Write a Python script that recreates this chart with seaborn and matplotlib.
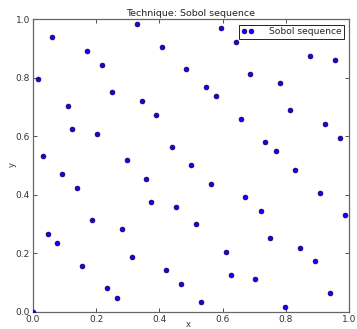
import matplotlib
matplotlib.use("Agg")
import matplotlib.pyplot as plt
from matplotlib.lines import Line2D
import seaborn as sns
import pandas as pd

# Sample points of the 2-D Sobol sequence
x_vals = [0.000, 0.017, 0.062, 0.173, 0.218, 0.329, 0.408, 0.484, 0.251, 0.344,
          0.111, 0.391, 0.125, 0.203, 0.439, 0.032, 0.297, 0.595, 0.641, 0.876,
          0.954, 0.687, 0.782, 0.548, 0.579, 0.814, 0.657, 0.924, 0.970, 0.735,
          0.767, 0.500, 0.094, 0.359, 0.141, 0.375, 0.454, 0.187, 0.282, 0.047,
          0.078, 0.314, 0.157, 0.422, 0.470, 0.235, 0.266, 0.830, 0.563, 0.908,
          0.672, 0.720, 0.986, 0.516, 0.751, 0.845, 0.610, 0.892, 0.626, 0.703,
          0.938, 0.532, 0.797]
y_vals = [0.000, 0.798, 0.939, 0.893, 0.845, 0.986, 0.907, 0.831, 0.752, 0.720,
          0.705, 0.674, 0.626, 0.610, 0.564, 0.533, 0.518, 0.971, 0.923, 0.876,
          0.862, 0.815, 0.783, 0.768, 0.737, 0.689, 0.658, 0.642, 0.596, 0.580,
          0.549, 0.504, 0.471, 0.455, 0.423, 0.376, 0.360, 0.315, 0.283, 0.267,
          0.237, 0.189, 0.158, 0.142, 0.096, 0.081, 0.049, 0.486, 0.439, 0.408,
          0.392, 0.346, 0.330, 0.299, 0.252, 0.220, 0.205, 0.174, 0.127, 0.112,
          0.065, 0.033, 0.018]
series_label = "Sobol sequence"
tick_vals = [0.0, 0.2, 0.4, 0.6, 0.8, 1.0]

df = pd.DataFrame({"x": x_vals, "y": y_vals})

sns.set_style("white")
plt.rcParams["font.family"] = ["DejaVu Sans"]
plt.rcParams["font.size"] = 6.5

face = "#1a00ee"
edge = "#000055"

fig = plt.figure(figsize=(3.57, 3.29), dpi=100)
ax = fig.add_axes([0.0916, 0.052, 0.8868, 0.8888])

sns.scatterplot(data=df, x="x", y="y", ax=ax, color=face,
                edgecolor=edge, linewidth=0.5, s=12, marker="o",
                legend=False, zorder=3)

ax.set_xlim(0, 1)
ax.set_ylim(0, 1)
ax.set_xticks(tick_vals)
ax.set_yticks(tick_vals)
ax.set_xticklabels([f"{t:.1f}" for t in tick_vals], color="#333333")
ax.set_yticklabels([f"{t:.1f}" for t in tick_vals], color="#333333")
ax.tick_params(direction="in", length=3, width=0.6, color="#333333",
               top=True, right=True, bottom=True, left=True, labelsize=6.5, pad=2)
for sp in ax.spines.values():
    sp.set_visible(True)
    sp.set_color("#666666")
    sp.set_linewidth(0.9)

ax.set_xlabel("x", fontsize=6, color="#333333")
ax.set_ylabel("y", fontsize=6, color="#333333")
ax.xaxis.set_label_coords(0.49, -0.042)
ax.xaxis.label.set_va("center")
ax.yaxis.set_label_coords(-0.066, 0.505)
ax.yaxis.label.set_va("center")
ax.set_title("Technique: Sobol sequence", fontsize=6.8, color="#222222", pad=2.5)

# legend entry showing two markers, as in classic matplotlib
handle = Line2D([], [], linestyle="none", marker="o", markersize=3.4,
                markerfacecolor=face, markeredgecolor=edge, markeredgewidth=0.5)
leg = ax.legend([handle], [series_label], loc="upper right", numpoints=2,
                fontsize=6.6, frameon=True, fancybox=False, borderaxespad=0.6,
                borderpad=0.25, handletextpad=1.6, handlelength=1.45)
leg.get_frame().set_edgecolor("#222222")
leg.get_frame().set_linewidth(0.7)
leg.get_frame().set_alpha(1.0)

fig.savefig("out.png", dpi=100)
